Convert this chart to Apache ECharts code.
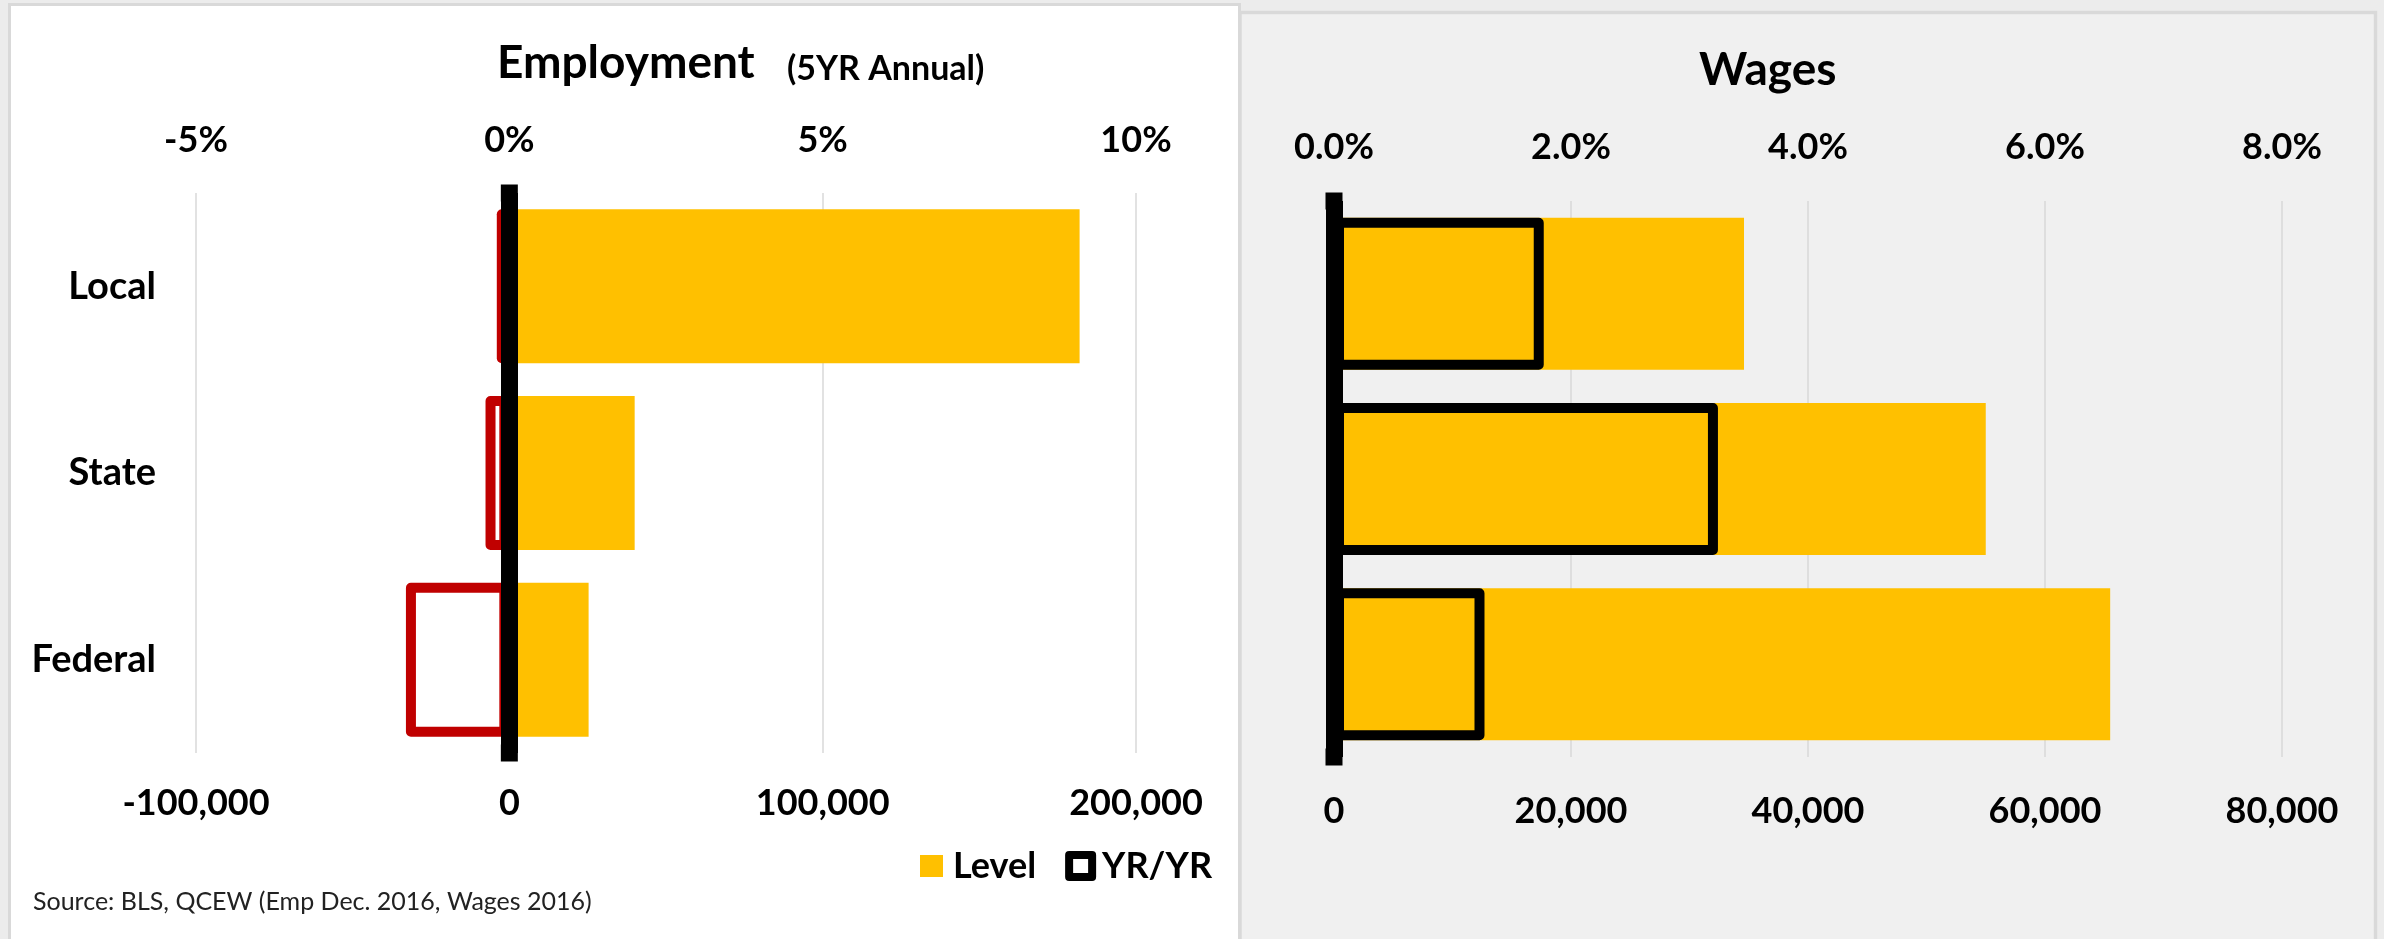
<!DOCTYPE html>
<html>
<head>
<meta charset="utf-8">
<script src="https://cdn.jsdelivr.net/npm/echarts@6/dist/echarts.min.js"></script>
<style>
html,body{margin:0;padding:0;background:#ececec;}
#c{width:2384px;height:939px;}
</style>
</head>
<body>
<div id="c"></div>
<script>
// ---- data ----
const categories = ['Local', 'State', 'Federal'];
const empLevel = [182000, 40000, 25300];      // employment level change (5YR)
const empYoY = [-0.2, -0.38, -1.65];           // employment YR/YR %
const wageLevel = [34600, 55000, 65500];       // wage level
const wageYoY = [1.77, 3.24, 1.27];            // wage YR/YR %
const empCountTicks = { min: -100000, max: 200000, interval: 100000 };
const empPctTicks = { min: -5, max: 10, interval: 5 };
const wageCountTicks = { min: 0, max: 80000, interval: 20000 };
const wagePctTicks = { min: 0, max: 8, interval: 2 };

const FONT = 'Lato';
const YELLOW = '#FFC000';
const tickLabel = { fontFamily: FONT, fontWeight: 'bold', fontSize: 36, color: '#000' };
const gridLine = { show: true, lineStyle: { color: '#d9d9d9', width: 1.5 } };
const fmtNum = v => v.toLocaleString('en-US');
const zeroLine = {
  show: true, onZero: true, symbol: ['rect', 'rect'], symbolSize: [17, 17],
  lineStyle: { color: '#000', width: 17, cap: 'butt' }
};

const chart = echarts.init(document.getElementById('c'), null, { renderer: 'canvas' });

const option = {
  backgroundColor: '#ececec',
  animation: false,
  graphic: [
    { type: 'rect', z: -100, shape: { x: 9.5, y: 4.5, width: 1230, height: 960 },
      style: { fill: '#ffffff', stroke: '#d9d9d9', lineWidth: 3 } },
    { type: 'rect', z: -100, shape: { x: 1240, y: 12.5, width: 1135.5, height: 960 },
      style: { fill: '#f0f0f0', stroke: '#d9d9d9', lineWidth: 3.5 } }
  ],
  title: [
    { text: 'Employment', left: 497, top: 40, padding: 0,
      textStyle: { fontFamily: FONT, fontWeight: 'bold', fontSize: 46, color: '#000' } },
    { text: '(5YR Annual)', left: 787, top: 52, padding: 0,
      textStyle: { fontFamily: FONT, fontWeight: 'bold', fontSize: 34, color: '#000' } },
    { text: 'Wages', left: 1699, top: 47, padding: 0,
      textStyle: { fontFamily: FONT, fontWeight: 'bold', fontSize: 46, color: '#000' } },
    { text: 'Source: BLS, QCEW (Emp Dec. 2016, Wages 2016)', left: 33, top: 889, padding: 0,
      textStyle: { fontFamily: FONT, fontWeight: 'normal', fontSize: 25, color: '#222' } }
  ],
  legend: {
    left: 920, top: 848, padding: 0, itemWidth: 23, itemHeight: 22, itemGap: 29, icon: 'rect',
    textStyle: { fontFamily: FONT, fontWeight: 'bold', fontSize: 36, color: '#000', padding: [0, 0, 0, 5] },
    data: [
      { name: 'Level', itemStyle: { color: YELLOW, borderWidth: 0 } },
      { name: 'YR/YR', itemStyle: { color: '#ffffff', borderColor: '#000', borderWidth: 8 } }
    ]
  },
  grid: [
    { left: 196, top: 193, width: 940, height: 560, outerBoundsMode: 'none', containLabel: false },
    { left: 1334, top: 201, width: 948, height: 556, outerBoundsMode: 'none', containLabel: false }
  ],
  xAxis: [
    { gridIndex: 0, type: 'value', position: 'bottom', ...empCountTicks,
      axisLine: { show: false, onZero: false }, axisTick: { show: false }, splitLine: gridLine,
      axisLabel: { ...tickLabel, margin: 32, formatter: fmtNum } },
    { gridIndex: 0, type: 'value', position: 'top', ...empPctTicks,
      axisLine: { show: false, onZero: false }, axisTick: { show: false }, splitLine: { show: false },
      axisLabel: { ...tickLabel, margin: 35, formatter: v => v + '%' } },
    { gridIndex: 1, type: 'value', position: 'bottom', ...wageCountTicks,
      axisLine: { show: false, onZero: false }, axisTick: { show: false }, splitLine: gridLine,
      axisLabel: { ...tickLabel, margin: 36, formatter: fmtNum } },
    { gridIndex: 1, type: 'value', position: 'top', ...wagePctTicks,
      axisLine: { show: false, onZero: false }, axisTick: { show: false }, splitLine: { show: false },
      axisLabel: { ...tickLabel, margin: 36, formatter: v => v.toFixed(1) + '%' } }
  ],
  yAxis: [
    { gridIndex: 0, type: 'category', data: categories, inverse: true, position: 'left',
      axisLine: { show: false, onZero: false }, axisTick: { show: false },
      axisLabel: { fontFamily: FONT, fontWeight: 'bold', fontSize: 38, color: '#000', margin: 40 } },
    { gridIndex: 0, type: 'category', data: categories, inverse: true, position: 'left', z: 10,
      axisLine: zeroLine, axisTick: { show: false }, axisLabel: { show: false } },
    { gridIndex: 1, type: 'category', data: categories, inverse: true, position: 'left', z: 10,
      axisLine: zeroLine, axisTick: { show: false }, axisLabel: { show: false } }
  ],
  series: [
    { name: 'Level', type: 'bar', xAxisIndex: 0, yAxisIndex: 0, data: empLevel,
      barWidth: '82.5%', barGap: '-100%', itemStyle: { color: YELLOW }, z: 2 },
    { name: 'YR/YR', type: 'bar', xAxisIndex: 1, yAxisIndex: 0, data: empYoY,
      barWidth: '82.5%', barGap: '-100%', z: 3,
      itemStyle: { color: 'rgba(0,0,0,0)', borderColor: '#C00000', borderWidth: 10, borderJoin: 'round' } },
    { name: 'Level', type: 'bar', xAxisIndex: 2, yAxisIndex: 2, data: wageLevel,
      barWidth: '82%', barGap: '-100%', itemStyle: { color: YELLOW }, z: 2 },
    { name: 'YR/YR', type: 'bar', xAxisIndex: 3, yAxisIndex: 2, data: wageYoY,
      barWidth: '82%', barGap: '-100%', z: 3,
      itemStyle: { color: 'rgba(0,0,0,0)', borderColor: '#000', borderWidth: 10, borderJoin: 'round' } }
  ]
};
chart.setOption(option);
</script>
</body>
</html>
